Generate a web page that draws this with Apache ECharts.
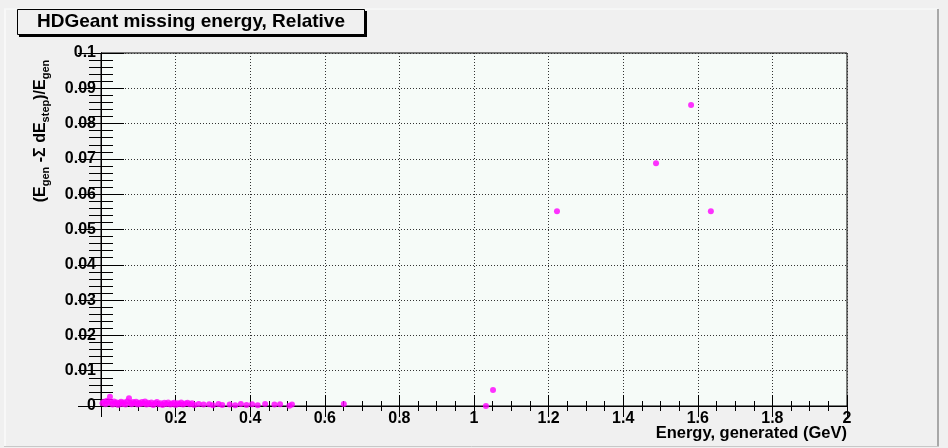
<!DOCTYPE html>
<html lang="en">
<head>
<meta charset="UTF-8">
<script src="https://cdn.jsdelivr.net/npm/echarts@6/dist/echarts.min.js"></script>
<style>
	body { margin: 0; background: #f0f0f0; }
	#main { width: 948px; height: 448px; }
</style>
</head>
<body>
	<div id="main"></div>
	<script type="text/javascript">
		// energy generated (GeV) and relative missing energy
		var energy = [
			0.004, 0.008, 0.012, 0.016, 0.020, 0.024, 0.027, 0.031, 0.035, 0.038,
			0.042, 0.046, 0.050, 0.054, 0.058, 0.062, 0.066, 0.070, 0.075, 0.078,
			0.082, 0.086, 0.090, 0.094, 0.098, 0.102, 0.106, 0.110, 0.114, 0.118,
			0.122, 0.126, 0.130, 0.135, 0.140, 0.145, 0.150, 0.155, 0.160, 0.165,
			0.170, 0.175, 0.180, 0.186, 0.190, 0.196, 0.200, 0.205, 0.210, 0.215,
			0.220, 0.226, 0.232, 0.238, 0.244, 0.250, 0.262, 0.275, 0.290, 0.300,
			0.315, 0.325, 0.345, 0.360, 0.375, 0.390, 0.405, 0.420, 0.440, 0.465,
			0.480, 0.505, 0.512, 0.651, 1.032, 1.051, 1.2225, 1.488, 1.582, 1.635
		];
		var relMissing = [
			0.0008, 0.0012, 0.0005, 0.0015, 0.0009, 0.0026, 0.0011, 0.0004, 0.0013, 0.0007,
			0.0010, 0.0003, 0.0009, 0.0012, 0.0006, 0.0010, 0.0004, 0.0013, 0.0022, 0.0009,
			0.0005, 0.0011, 0.0008, 0.0012, 0.0004, 0.0009, 0.0006, 0.0011, 0.0007, 0.0013,
			0.0004, 0.0009, 0.0006, 0.0010, 0.0003, 0.0008, 0.0011, 0.0005, 0.0008, 0.0003,
			0.0009, 0.0006, 0.0010, 0.0004, 0.0007, 0.0009, 0.0003, 0.0008, 0.0006, 0.0010,
			0.0004, 0.0007, 0.0009, 0.0005, 0.0008, 0.0003, 0.0006, 0.0004, 0.0005, 0.0002,
			0.0006, 0.0003, 0.0004, 0.0002, 0.0006, 0.0003, 0.0005, 0.0002, 0.0006, 0.0004,
			0.0005, 0.0001, 0.0004, 0.0006, 0.0000, 0.0045, 0.0552, 0.0688, 0.0853, 0.0552
		];

		var points = [];
		for (var i = 0; i < energy.length; i++) {
			points.push([energy[i], relMissing[i]]);
		}

		var font = '"Liberation Sans", Arial, sans-serif';
		var gridLeft = 101, gridTop = 53, gridRight = 101, gridBottom = 42;

		var mychar = echarts.init(document.getElementById('main'));

		var option = {
			backgroundColor: '#f0f0f0',
			animation: false,
			grid: {
				left: gridLeft, top: gridTop, right: gridRight, bottom: gridBottom,
				outerBoundsMode: 'none', containLabel: false,
				show: true, backgroundColor: '#f6fbf8', borderColor: '#000', borderWidth: 1
			},
			xAxis: [{
				type: 'value', min: 0, max: 2, interval: 0.2, position: 'bottom',
				axisLine: { lineStyle: { color: '#000' } },
				axisTick: { inside: true, length: 11, lineStyle: { color: '#000' } },
				minorTick: { show: true, splitNumber: 4, length: 5, lineStyle: { color: '#000' } },
				axisLabel: {
					margin: 5, fontFamily: font, fontWeight: 'bold', fontSize: 16, color: '#000',
					formatter: function (v) { return v === 0 ? '' : String(v); }
				},
				splitLine: { show: true, lineStyle: { color: '#333', type: [1, 2] } }
			}, {
				type: 'value', min: 0, max: 2, interval: 0.2, position: 'top',
				axisLine: { lineStyle: { color: '#000' } },
				axisTick: { inside: true, length: 11, lineStyle: { color: '#000' } },
				minorTick: { show: true, splitNumber: 4, length: 5, lineStyle: { color: '#000' } },
				axisLabel: { show: false },
				splitLine: { show: false }
			}],
			yAxis: [{
				type: 'value', min: 0, max: 0.1, interval: 0.01, position: 'left',
				axisLine: { lineStyle: { color: '#000' } },
				axisTick: { inside: true, length: 23, lineStyle: { color: '#000' } },
				minorTick: { show: true, splitNumber: 5, length: 12, lineStyle: { color: '#000' } },
				axisLabel: { margin: 5, fontFamily: font, fontWeight: 'bold', fontSize: 16, color: '#000' },
				splitLine: { show: true, lineStyle: { color: '#333', type: [1, 2] } }
			}, {
				type: 'value', min: 0, max: 0.1, interval: 0.01, position: 'right',
				axisLine: { lineStyle: { color: '#000' } },
				axisTick: { inside: true, length: 23, lineStyle: { color: '#000' } },
				minorTick: { show: true, splitNumber: 5, length: 12, lineStyle: { color: '#000' } },
				axisLabel: { show: false },
				splitLine: { show: false }
			}],
			series: [{
				type: 'scatter',
				xAxisIndex: 0, yAxisIndex: 0,
				symbol: 'circle', symbolSize: 6,
				itemStyle: { color: '#ff00ff' },
				data: points,
				z: 1
			}],
			graphic: [
				// pad frame
				{ type: 'line', shape: { x1: 4, y1: 9, x2: 938, y2: 9 }, style: { stroke: '#fbfdfc', lineWidth: 1 } },
				{ type: 'line', shape: { x1: 5, y1: 9, x2: 5, y2: 446 }, style: { stroke: '#f8f8f8', lineWidth: 2 } },
				{ type: 'line', shape: { x1: 938, y1: 9, x2: 938, y2: 447 }, style: { stroke: '#a8a8a8', lineWidth: 2 } },
				{ type: 'line', shape: { x1: 4, y1: 446.5, x2: 939, y2: 446.5 }, style: { stroke: '#c8c8c8', lineWidth: 1 } },
				// title box
				{ type: 'rect', shape: { x: 19, y: 11, width: 348, height: 26 }, style: { fill: '#000' } },
				{ type: 'rect', shape: { x: 17.5, y: 9.5, width: 347, height: 25 }, style: { fill: '#f0f0f0', stroke: '#000', lineWidth: 1 } },
				{
					type: 'text', x: 191, y: 22,
					style: {
						text: 'HDGeant missing energy, Relative',
						font: 'bold 19px ' + font, fill: '#000',
						align: 'center', verticalAlign: 'middle'
					}
				},
				// x axis title
				{
					type: 'text', x: 847, y: 433,
					style: {
						text: 'Energy, generated (GeV)',
						font: 'bold 16.5px ' + font, fill: '#000',
						align: 'right', verticalAlign: 'middle'
					}
				},
				// y axis title with subscripts
				{
					type: 'text', x: 41, y: 131, rotation: Math.PI / 2,
					style: {
						text: '(E{s|gen} -Σ dE{s|step})/E{s|gen}',
						font: 'bold 16px ' + font, fill: '#000',
						align: 'center', verticalAlign: 'middle',
						rich: {
							s: { fontFamily: font, fontWeight: 'bold', fontSize: 11, fill: '#000', padding: [9, 0, 0, 0] }
						}
					}
				}
			]
		};

		mychar.setOption(option);
	</script>
</body>
</html>
